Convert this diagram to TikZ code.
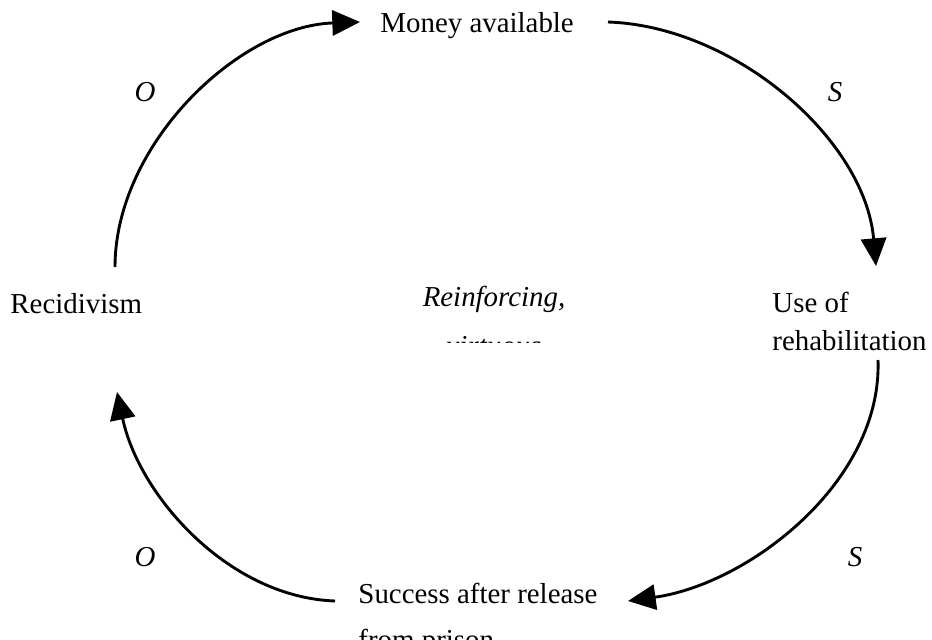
\documentclass[tikz,border=0pt]{standalone}
\usepackage{fontspec}
\setmainfont{Liberation Serif}
\usetikzlibrary{arrows.meta}
\tikzstyle{word} = [inner sep=0pt, 
anchor=base west, 
font=\fontsize{12pt}{15.5pt}\selectfont, 
align=left]
\tikzstyle{sign} = [inner sep=0pt, 
font=\fontsize{12pt}{14pt}\selectfont\itshape]
\tikzstyle{arrow} = [line width=1.2pt, looseness=0.9, -{Triangle[length=11.5pt,width=10.5pt]}]

\begin{document}
\begin{tikzpicture}[x=0.0146cm, y=-0.0146cm]
\useasboundingbox (0,0) rectangle (932,639);

\node (money) [word] at (380,33) {Money available};
\node (rehab) [word] at (772,350) {Use of\\rehabilitation};
\node (success) [word, font=\fontsize{12pt}{19pt}\selectfont] at (358,649) {Success after release\\from prison};
\node (recid) [word] at (10,313) {Recidivism};
\begin{scope}
\clip (400,250) rectangle (600,342);
\node (loop) [word, anchor=base, align=center, font=\fontsize{12pt}{20pt}\selectfont\itshape] at (494,355) {Reinforcing,\\virtuous};
\end{scope}

% ends of the arrows
\coordinate (moneyin) at (360,22);
\coordinate (moneyout) at (608,22);
\coordinate (rehabin) at (876,266);
\coordinate (rehabout) at (878,360);
\coordinate (successin) at (628,601);
\coordinate (successout) at (335,601);
\coordinate (recidin) at (117,392);
\coordinate (recidout) at (115,267);

\draw [arrow] (recidout) to[out=90, in=182] (moneyin);
\draw [arrow] (moneyout) to[out=-2, in=95] (rehabin);
\draw [arrow] (rehabout) to[out=-88, in=8] (successin);
\draw [arrow] (successout) to[out=178, in=-78] (recidin);

% signs of the links
\node (o1) [sign] at (145,92) {O};
\node (s1) [sign] at (835,92) {S};
\node (s2) [sign] at (855,557) {S};
\node (o2) [sign] at (145,557) {O};

\end{tikzpicture}
\end{document}
